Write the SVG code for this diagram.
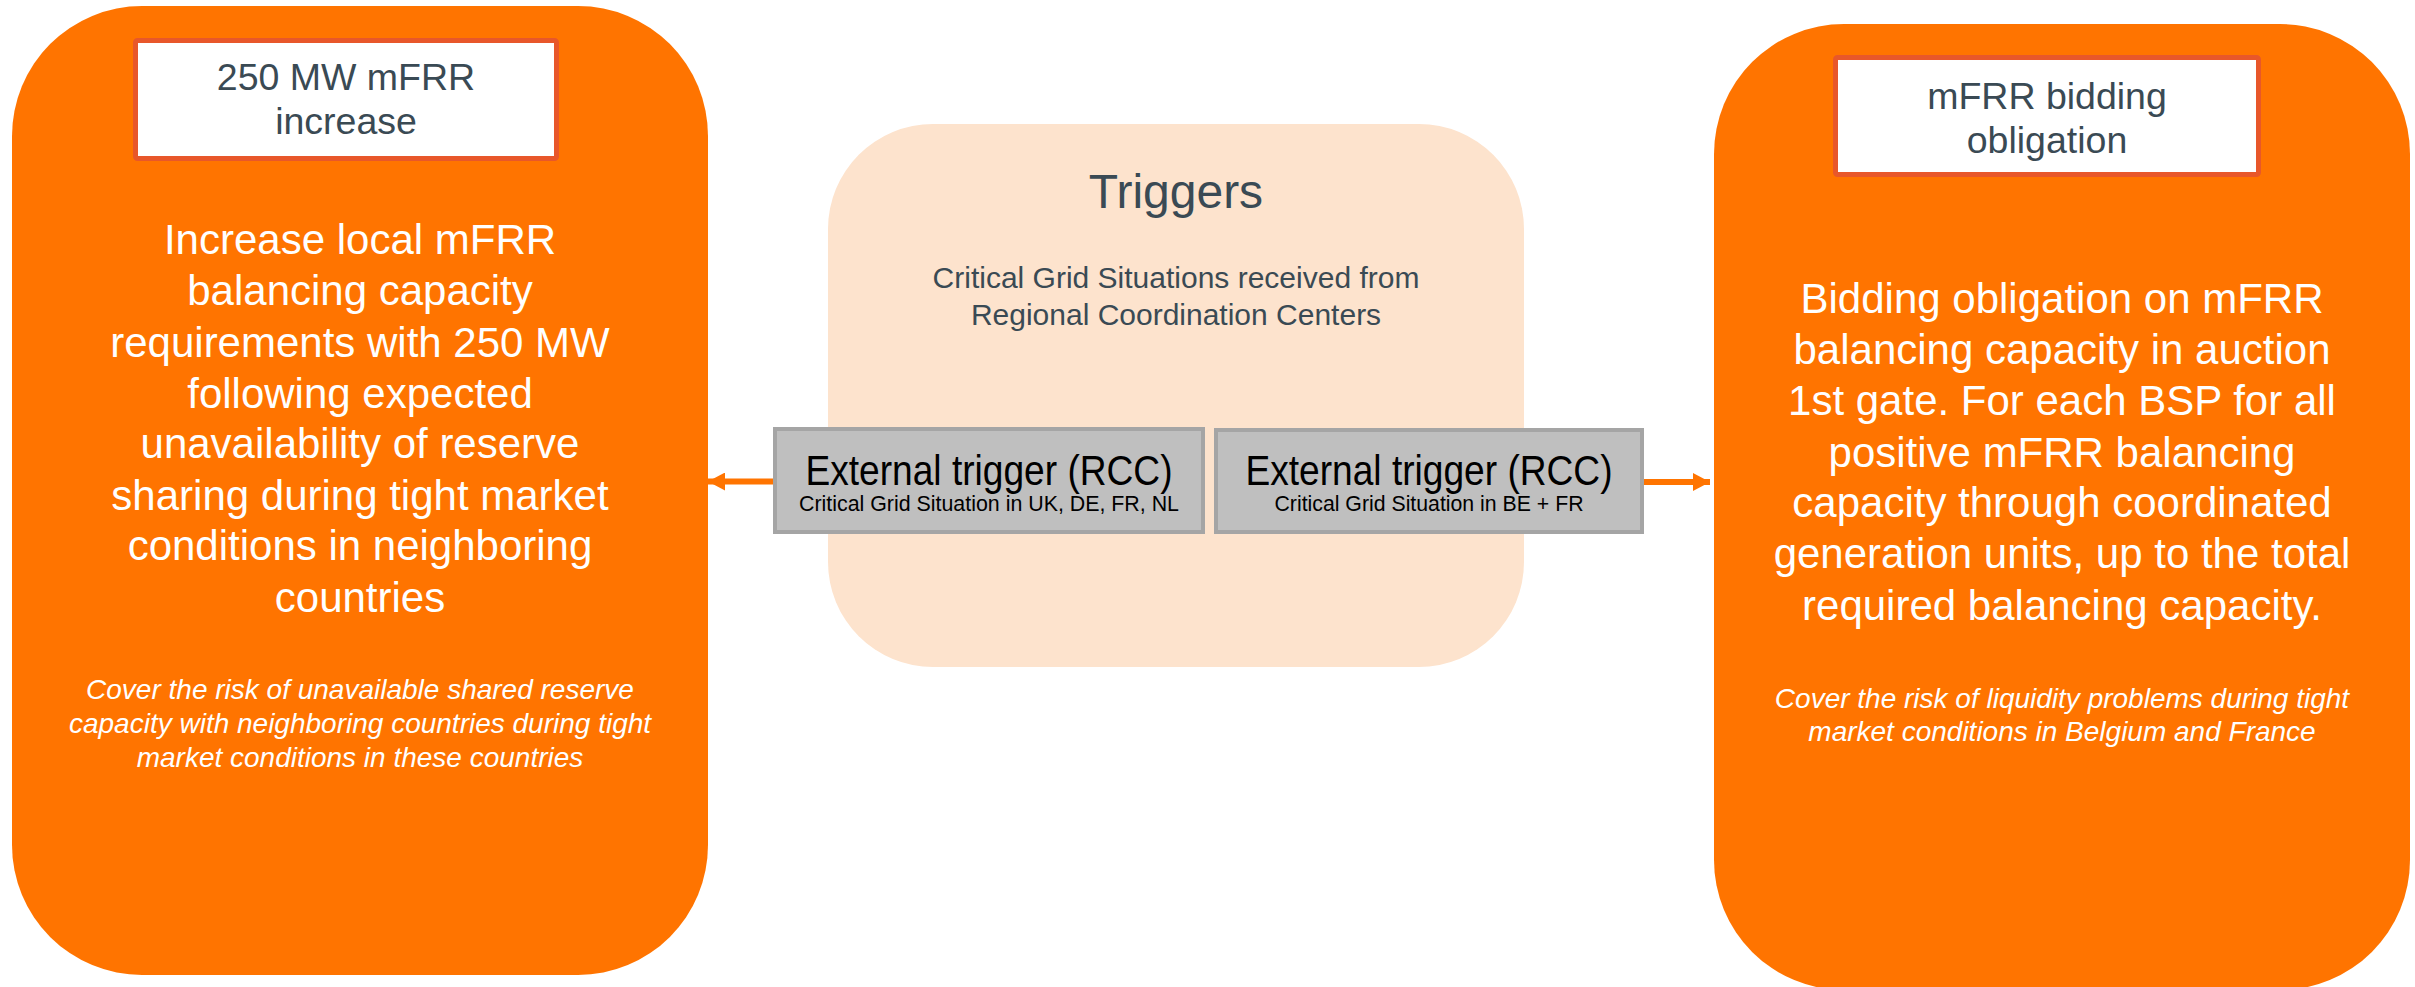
<svg xmlns="http://www.w3.org/2000/svg" width="2415" height="987" viewBox="0 0 2415 987">
  <defs>
    <style>
      .big { fill: #FF7400; }
      .title-box { fill: #FFFFFF; stroke: #E8572A; stroke-width: 5; }
      .title { font-family: "Liberation Sans", Arial, sans-serif; font-size: 37.5px; fill: #3A4A54; text-anchor: middle; }
      .body { font-family: "Liberation Sans", Arial, sans-serif; font-size: 42px; fill: #FFFFFF; text-anchor: middle; }
      .note { font-family: "Liberation Sans", Arial, sans-serif; font-size: 28px; font-style: italic; fill: #FFFFFF; text-anchor: middle; }
      .trig-box { fill: #FDE3CD; }
      .trig-title { font-family: "Liberation Sans", Arial, sans-serif; font-size: 48px; fill: #3A4A54; text-anchor: middle; }
      .trig-sub { font-family: "Liberation Sans", Arial, sans-serif; font-size: 30px; fill: #3A4A54; text-anchor: middle; }
      .gray { fill: #BFBFBF; stroke: #A5A5A5; stroke-width: 4; }
      .ext { font-family: "Liberation Sans", Arial, sans-serif; font-size: 42px; fill: #000000; text-anchor: middle; }
      .ext-sub { font-family: "Liberation Sans", Arial, sans-serif; font-size: 22px; fill: #000000; text-anchor: middle; }
      .conn { stroke: #FF7400; stroke-width: 6; fill: none; }
    </style>
    <marker id="arrow" viewBox="0 0 17 18" refX="17" refY="9" markerWidth="17" markerHeight="18" markerUnits="userSpaceOnUse" orient="auto">
      <path d="M0,0 L17,9 L0,18 Z" fill="#FF7400"/>
    </marker>
  </defs>

  <g id="node-increase">
    <rect class="big" x="12" y="6" width="696" height="969" rx="130" ry="130"/>
    <rect class="title-box" x="135.5" y="40.5" width="421" height="118" rx="2"/>
    <text class="title" x="346" y="90">250 MW mFRR</text>
    <text class="title" x="346" y="134">increase</text>
    <text class="body" x="360" y="254">Increase local mFRR</text>
    <text class="body" x="360" y="305">balancing capacity</text>
    <text class="body" x="360" y="357">requirements with 250 MW</text>
    <text class="body" x="360" y="408">following expected</text>
    <text class="body" x="360" y="458">unavailability of reserve</text>
    <text class="body" x="360" y="510">sharing during tight market</text>
    <text class="body" x="360" y="560">conditions in neighboring</text>
    <text class="body" x="360" y="612">countries</text>
    <text class="note" x="360" y="699">Cover the risk of unavailable shared reserve</text>
    <text class="note" x="360" y="733">capacity with neighboring countries during tight</text>
    <text class="note" x="360" y="767">market conditions in these countries</text>
  </g>

  <g id="node-triggers">
    <rect class="trig-box" x="828" y="124" width="696" height="543" rx="105" ry="105"/>
    <text class="trig-title" x="1176" y="208">Triggers</text>
    <text class="trig-sub" x="1176" y="288">Critical Grid Situations received from</text>
    <text class="trig-sub" x="1176" y="325">Regional Coordination Centers</text>
  </g>

  <g id="node-ext1">
    <rect class="gray" x="775" y="429" width="428" height="103"/>
    <text class="ext" x="989" y="485" textLength="367" lengthAdjust="spacingAndGlyphs">External trigger (RCC)</text>
    <text class="ext-sub" x="989" y="511" textLength="380" lengthAdjust="spacingAndGlyphs">Critical Grid Situation in UK, DE, FR, NL</text>
  </g>

  <g id="node-ext2">
    <rect class="gray" x="1216" y="430" width="426" height="102"/>
    <text class="ext" x="1429" y="485" textLength="367" lengthAdjust="spacingAndGlyphs">External trigger (RCC)</text>
    <text class="ext-sub" x="1429" y="511" textLength="309" lengthAdjust="spacingAndGlyphs">Critical Grid Situation in BE + FR</text>
  </g>

  <g id="node-bidding">
    <rect class="big" x="1714" y="24" width="696" height="966" rx="130" ry="130"/>
    <rect class="title-box" x="1835.5" y="57.5" width="423" height="117" rx="2"/>
    <text class="title" x="2047" y="109">mFRR bidding</text>
    <text class="title" x="2047" y="153">obligation</text>
    <text class="body" x="2062" y="313">Bidding obligation on mFRR</text>
    <text class="body" x="2062" y="364">balancing capacity in auction</text>
    <text class="body" x="2062" y="415">1st gate. For each BSP for all</text>
    <text class="body" x="2062" y="467">positive mFRR balancing</text>
    <text class="body" x="2062" y="517">capacity through coordinated</text>
    <text class="body" x="2062" y="568">generation units, up to the total</text>
    <text class="body" x="2062" y="620">required balancing capacity.</text>
    <text class="note" x="2062" y="708">Cover the risk of liquidity problems during tight</text>
    <text class="note" x="2062" y="741">market conditions in Belgium and France</text>
  </g>

  <g id="connectors">
    <line class="conn" x1="773" y1="481.5" x2="708" y2="481.5" marker-end="url(#arrow)"/>
    <line class="conn" x1="1644" y1="482" x2="1710" y2="482" marker-end="url(#arrow)"/>
  </g>
</svg>
